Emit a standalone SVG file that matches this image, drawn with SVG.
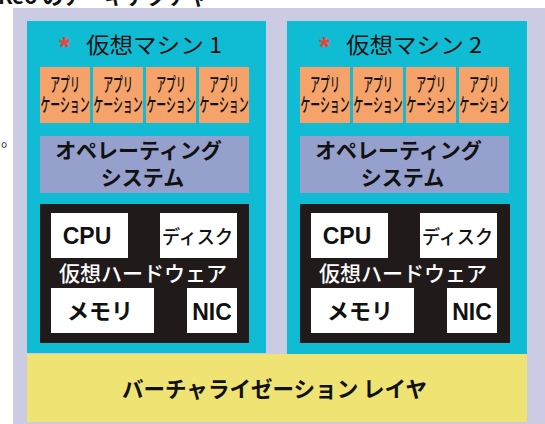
<svg xmlns="http://www.w3.org/2000/svg" width="545" height="424" viewBox="0 0 545 424">
<style>
.ja{font-family:"Noto Sans CJK JP","Noto Sans",sans-serif}
.en{font-family:"Liberation Sans",Arial,sans-serif;font-weight:bold}
.vm{fill:#10bcd4}
.app{fill:#f5a36a}
.os{fill:#96a0cc}
.hw{fill:#201a1b}
.part{fill:#ffffff}
.title{font-size:22px;fill:#111}
.star{font-family:"Liberation Sans",Arial,sans-serif;font-weight:bold;font-size:28px;fill:#e8443a}
.apptx{font-size:19px;fill:#111;font-weight:500}
.ostx{font-size:21px;font-weight:bold;fill:#111}
.hwtx{font-size:21px;font-weight:500;fill:#fff}
.pt{fill:#111}
</style>
<rect x="0" y="0" width="545" height="424" fill="#ffffff"/>
<text class="ja" x="-2" y="4" font-size="21" font-weight="bold" fill="#111">Keo のアーキテクチャ</text>
<text class="ja" x="1" y="146" font-size="16" fill="#111">。</text>
<g id="host">
<rect x="13" y="8" width="532" height="416" fill="#cbcce4"/>
</g>
<g id="connectors"></g>
<g id="vm1">
<rect class="vm" x="27" y="21" width="239" height="332"/>
<g id="vm1-title">
<text class="star" x="59" y="56">*</text>
<text class="ja title" x="86" y="53" textLength="136" lengthAdjust="spacingAndGlyphs">仮想マシン 1</text>
</g>
<g id="vm1-app1"><rect class="app" x="40" y="67" width="50" height="56"/><text class="ja apptx" transform="translate(65,0) scale(0.52,1)" text-anchor="middle"><tspan x="0" y="92">アプリ</tspan><tspan x="0" y="112">ケーション</tspan></text></g>
<g id="vm1-app2"><rect class="app" x="93" y="67" width="50" height="56"/><text class="ja apptx" transform="translate(118,0) scale(0.52,1)" text-anchor="middle"><tspan x="0" y="92">アプリ</tspan><tspan x="0" y="112">ケーション</tspan></text></g>
<g id="vm1-app3"><rect class="app" x="146" y="67" width="50" height="56"/><text class="ja apptx" transform="translate(171,0) scale(0.52,1)" text-anchor="middle"><tspan x="0" y="92">アプリ</tspan><tspan x="0" y="112">ケーション</tspan></text></g>
<g id="vm1-app4"><rect class="app" x="199" y="67" width="50" height="56"/><text class="ja apptx" transform="translate(224,0) scale(0.52,1)" text-anchor="middle"><tspan x="0" y="92">アプリ</tspan><tspan x="0" y="112">ケーション</tspan></text></g>
<g id="vm1-os"><rect class="os" x="40" y="136" width="209" height="57"/><text class="ja ostx" x="138.5" y="158" text-anchor="middle">オペレーティング</text><text class="ja ostx" x="142.5" y="185" text-anchor="middle">システム</text></g>
<g id="vm1-hw"><rect class="hw" x="40" y="204" width="209" height="139"/><text class="ja hwtx" x="143" y="281" text-anchor="middle">仮想ハードウェア</text></g>
<g id="vm1-cpu"><rect class="part" x="51" y="213" width="77" height="45"/><text class="en pt" x="87" y="244" font-size="23" text-anchor="middle">CPU</text></g>
<g id="vm1-disk"><rect class="part" x="160" y="213" width="77" height="45"/><text class="ja pt" x="197.5" y="244" font-size="19" font-weight="500" text-anchor="middle" textLength="71" lengthAdjust="spacingAndGlyphs">ディスク</text></g>
<g id="vm1-mem"><rect class="part" x="51" y="288" width="103" height="45"/><text class="ja pt" x="100" y="319" font-size="22" font-weight="bold" text-anchor="middle" textLength="66" lengthAdjust="spacingAndGlyphs">メモリ</text></g>
<g id="vm1-nic"><rect class="part" x="187" y="288" width="50" height="45"/><text class="en pt" x="212" y="320" font-size="23" text-anchor="middle">NIC</text></g>
</g>
<g id="vm2">
<rect class="vm" x="287" y="21" width="240" height="334"/>
<g id="vm2-title">
<text class="star" x="319" y="56">*</text>
<text class="ja title" x="346" y="53" textLength="136" lengthAdjust="spacingAndGlyphs">仮想マシン 2</text>
</g>
<g id="vm2-app1"><rect class="app" x="300" y="67" width="50" height="56"/><text class="ja apptx" transform="translate(325,0) scale(0.52,1)" text-anchor="middle"><tspan x="0" y="92">アプリ</tspan><tspan x="0" y="112">ケーション</tspan></text></g>
<g id="vm2-app2"><rect class="app" x="353" y="67" width="50" height="56"/><text class="ja apptx" transform="translate(378,0) scale(0.52,1)" text-anchor="middle"><tspan x="0" y="92">アプリ</tspan><tspan x="0" y="112">ケーション</tspan></text></g>
<g id="vm2-app3"><rect class="app" x="406" y="67" width="50" height="56"/><text class="ja apptx" transform="translate(431,0) scale(0.52,1)" text-anchor="middle"><tspan x="0" y="92">アプリ</tspan><tspan x="0" y="112">ケーション</tspan></text></g>
<g id="vm2-app4"><rect class="app" x="459" y="67" width="50" height="56"/><text class="ja apptx" transform="translate(484,0) scale(0.52,1)" text-anchor="middle"><tspan x="0" y="92">アプリ</tspan><tspan x="0" y="112">ケーション</tspan></text></g>
<g id="vm2-os"><rect class="os" x="300" y="136" width="209" height="57"/><text class="ja ostx" x="398.5" y="158" text-anchor="middle">オペレーティング</text><text class="ja ostx" x="402.5" y="185" text-anchor="middle">システム</text></g>
<g id="vm2-hw"><rect class="hw" x="300" y="204" width="210" height="139"/><text class="ja hwtx" x="403" y="281" text-anchor="middle">仮想ハードウェア</text></g>
<g id="vm2-cpu"><rect class="part" x="311" y="213" width="77" height="45"/><text class="en pt" x="347" y="244" font-size="23" text-anchor="middle">CPU</text></g>
<g id="vm2-disk"><rect class="part" x="420" y="213" width="77" height="45"/><text class="ja pt" x="457.5" y="244" font-size="19" font-weight="500" text-anchor="middle" textLength="71" lengthAdjust="spacingAndGlyphs">ディスク</text></g>
<g id="vm2-mem"><rect class="part" x="311" y="288" width="103" height="45"/><text class="ja pt" x="360" y="319" font-size="22" font-weight="bold" text-anchor="middle" textLength="66" lengthAdjust="spacingAndGlyphs">メモリ</text></g>
<g id="vm2-nic"><rect class="part" x="447" y="288" width="50" height="45"/><text class="en pt" x="472" y="320" font-size="23" text-anchor="middle">NIC</text></g>
</g>
<g id="virtualization-layer">
<rect x="27" y="354" width="500" height="68" fill="#efe373"/>
<text class="ja" x="274.5" y="397" font-size="22" font-weight="bold" fill="#111" text-anchor="middle" textLength="305" lengthAdjust="spacingAndGlyphs">バーチャライゼーション レイヤ</text>
</g>
</svg>
